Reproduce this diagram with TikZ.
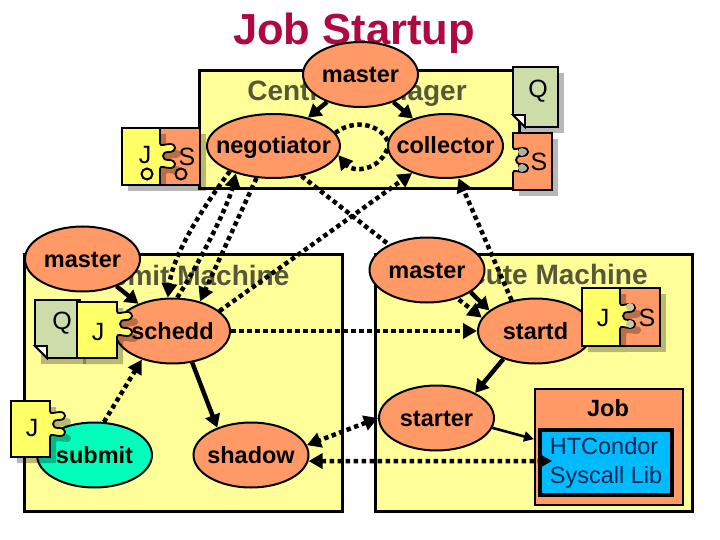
\documentclass[tikz,border=0pt]{standalone}
\usepackage{fontspec}
\setmainfont{Liberation Sans}
\usetikzlibrary{arrows.meta,shapes.geometric}
\definecolor{boxy}{HTML}{FFFF99}
\definecolor{orng}{HTML}{FF9966}
\definecolor{titlec}{HTML}{AE0A40}
\definecolor{greytxt}{HTML}{57573A}
\definecolor{qgreen}{HTML}{CCDDAA}
\definecolor{jyel}{HTML}{FFFF66}
\definecolor{lobegrey}{HTML}{C8C8A8}
\definecolor{tealc}{HTML}{00FFBB}
\definecolor{libblue}{HTML}{00BBFF}
\definecolor{libtxt}{HTML}{00264D}
\newcommand\dt[1]{\smash{\raisebox{-8pt}{\makebox[0pt]{#1}}}}
\tikzset{x=1pt,y=-1pt,
 machine/.style={draw=black,line width=3pt,fill=boxy,inner sep=0pt},
 mlabel/.style={font=\bfseries\fontsize{28}{30}\selectfont,text=greytxt,inner sep=0pt},
 daemon/.style={draw=black,line width=2pt,fill=orng,ellipse,minimum width=115pt,minimum height=65pt,inner sep=0pt,font=\bfseries\fontsize{23.5}{26}\selectfont},
 solidarrow/.style={line width=4.4pt,-{Triangle[length=13pt,width=15pt]}},
 thinarrow/.style={line width=2.6pt,-{Triangle[length=10pt,width=10pt]}},
 dotarrow/.style={line width=4.5pt,dash pattern=on 4.5pt off 3.5pt,-{Triangle[length=14pt,width=15pt]}},
 dotplain/.style={line width=4.5pt,dash pattern=on 4.5pt off 3.5pt},
 dotdouble/.style={line width=4.5pt,dash pattern=on 4.5pt off 3.5pt,{Triangle[length=14pt,width=15pt]}-{Triangle[length=14pt,width=15pt]}},
 paper/.style={draw=black,line width=1.8pt},
 shadowfill/.style={fill=black,fill opacity=.28,draw=none},
 letter/.style={font=\fontsize{25}{27}\selectfont,inner sep=0pt},
}
% J-shaped piece: left, top, boundary, bottom, y where the tab starts
\newcommand\jpath[5]{(#1,#2) -- (#3,#2) -- (#3,#5)
 .. controls ({#3},{#5+4}) and ({#3+5},{#5+1}) .. ({#3+10},{#5+1})
 .. controls ({#3+17},{#5+1}) and ({#3+17},{#5+9}) .. ({#3+9},{#5+9})
 .. controls ({#3+5},{#5+9}) and ({#3+3},{#5+10}) .. ({#3+3},{#5+13})
 .. controls ({#3+3},{#5+16}) and ({#3+5},{#5+17}) .. ({#3+9},{#5+17})
 .. controls ({#3+17},{#5+17}) and ({#3+17},{#5+25}) .. ({#3+10},{#5+25})
 .. controls ({#3+5},{#5+25}) and ({#3},{#5+22}) .. ({#3},{#5+26})
 -- (#3,#4) -- (#1,#4) -- cycle}
\newcommand\jpiece[5]{%
 \fill[shadowfill,shift={(6pt,-6pt)}] \jpath{#1}{#2}{#3}{#4}{#5};
 \draw[paper,fill=jyel] \jpath{#1}{#2}{#3}{#4}{#5};}
% S plate: left, top, right, bottom
\newcommand\splate[4]{%
 \fill[shadowfill] ({#1+6},{#2+6}) rectangle ({#3+6},{#4+6});
 \draw[paper,fill=orng] (#1,#2) rectangle (#3,#4);}
% Q sheet with folded lower-left corner: left, top, right, bottom
\newcommand\qsheet[4]{%
 \fill[shadowfill] ({#1+6},{#2+6}) rectangle ({#3+6},{#4+6});
 \draw[paper,fill=qgreen] (#1,#2) -- (#3,#2) -- (#3,#4) -- ({#1+12},#4) -- (#1,{#4-12}) -- cycle;
 \draw[paper,fill=white] (#1,{#4-12}) -- ({#1+12},{#4-12}) -- ({#1+12},#4) -- cycle;}
\begin{document}
\begin{tikzpicture}
\useasboundingbox (0,0) rectangle (720,540);
\fill[white] (0,0) rectangle (720,540);
\node[inner sep=0pt,text=titlec,font=\bfseries\fontsize{43.5}{46}\selectfont] (title) at (354,33) {Job Startup};
\node[machine,minimum width=320pt,minimum height=118pt] (cm) at (359,130) {};
\node[machine,minimum width=318pt,minimum height=257pt] (sm) at (183,382.5) {};
\node[machine,minimum width=317pt,minimum height=257pt] (em) at (533.5,382.5) {};
\node[mlabel] (cmt) at (357,93) {Central Manager};
\node[mlabel] (smt) at (182,275) {Submit Machine};
\node[mlabel] (emt) at (534,274) {Execute Machine};
% job box
\node[draw=black,line width=2pt,fill=orng,minimum width=148pt,minimum height=116pt,inner sep=0pt] (job) at (609,447) {};
\node[inner sep=0pt,font=\bfseries\fontsize{23.5}{26}\selectfont] (jobt) at (608,408) {Job};
\node[draw=black,line width=3.2pt,fill=libblue,minimum width=132pt,minimum height=65pt,align=left,inner sep=0pt,font=\fontsize{23.5}{29}\selectfont,text=libtxt] (lib) at (606,462.5) {HTCondor\\Syscall Lib};
\coordinate (libtip) at (552,461);
% daemons under the masters
\node[daemon,minimum width=133pt,minimum height=64pt] (neg) at (273.5,146) {\dt{negotiator}};
\node[daemon,minimum height=64pt] (coll) at (445.5,146) {\dt{collector}};
\node[daemon] (schedd) at (172.5,331) {\dt{schedd}};
\node[daemon] (startd) at (535.5,331) {\dt{startd}};
\node[daemon] (starter) at (436.5,418) {\dt{starter}};
\node[daemon] (shadow) at (251,455) {\dt{shadow}};
\node[daemon,fill=tealc] (submit) at (94.5,455) {\dt{submit}};
% connector that runs behind the master
\draw[dotarrow] (neg.-47) -- (startd.166);
\node[daemon] (master1) at (360.5,74.5) {\dt{master}};
\node[daemon] (master2) at (82.5,259) {\dt{master}};
\node[daemon] (master3) at (427,270) {\dt{master}};
% solid connectors
\draw[solidarrow] (master1) -- (neg);
\draw[solidarrow] (master1) -- (coll);
\draw[solidarrow] (master2) -- (schedd);
\draw[solidarrow] (master3.-27) -- (startd.156);
\draw[solidarrow] (startd.221) -- (starter.33);
\draw[solidarrow] (schedd.-58) -- (shadow.141);
\draw[thinarrow] (starter.-10) -- (job.174.6);
% dotted connectors
\draw[dotarrow] (neg.210) .. controls (190,225) and (172,262) .. (schedd.98);
\draw[dotarrow] (schedd.82) .. controls (197,267) and (228,207) .. (neg.216);
\draw[dotarrow] (neg.242) -- (schedd.47);
\draw[dotarrow] (schedd.23) -- (coll.219.6);
\draw[dotarrow] (startd.128) -- (coll.-68);
\draw[dotarrow] (schedd.east) -- (startd.west);
\draw[dotarrow] (submit.74) -- (schedd.223.5);
\draw[dotdouble] (starter.west) -- (shadow.10);
\draw[dotdouble] (shadow.-6) -- (libtip);
\draw[dotplain] (coll.175) .. controls (378,122) and (352,120) .. (neg.12);
\draw[dotarrow] (coll.183) .. controls (378,172) and (352,172) .. (neg.-8);
% ad pieces: negotiator side
\splate{160}{128}{200}{185}
\jpiece{122}{128}{160}{185}{143}
\node[letter] (ja) at (145,155) {J};
\node[letter] (sa) at (187,157) {S};
\node[draw=black,line width=2pt,fill=jyel,circle,minimum size=11pt,inner sep=0pt] (ca) at (147,174) {};
\node[draw=black,line width=2pt,fill=orng,circle,minimum size=11pt,inner sep=0pt] (cb) at (181,174) {};
% Q above the collector, S beside it
\qsheet{513}{67}{558}{127}
\node[letter] (qa) at (538,91) {Q};
\fill[shadowfill] (519,139) rectangle (558,196);
\draw[paper,fill=orng] (552,133) -- (513,133) -- (513,147)
 .. controls (513,151) and (518,148) .. (523,148)
 .. controls (530,148) and (530,156) .. (522,156)
 .. controls (518,156) and (516,157) .. (516,160)
 .. controls (516,163) and (518,164) .. (522,164)
 .. controls (530,164) and (530,172) .. (523,172)
 .. controls (518,172) and (513,169) .. (513,173)
 -- (513,190) -- (552,190) -- cycle;
\fill[lobegrey!70!gray] (522,152) circle (4pt) (522,168) circle (4pt);
\node[letter] (sb) at (539,162) {S};
% Q and J at the schedd
\qsheet{35}{300}{80}{358}
\node[letter] (qb) at (62,323) {Q};
\jpiece{77}{302}{117}{358}{311}
\node[letter] (jb) at (98,332) {J};
% J at submit
\jpiece{11}{401}{50}{457}{411}
\node[letter] (jc) at (32,428) {J};
% J and S at the startd
\splate{620}{288}{660}{346}
\jpiece{582}{288}{620}{346}{303}
\fill[lobegrey] (630,307) circle (4pt) (630,324) circle (4pt);
\node[letter] (jd) at (603,318) {J};
\node[letter] (sd) at (647,318) {S};
\end{tikzpicture}
\end{document}
